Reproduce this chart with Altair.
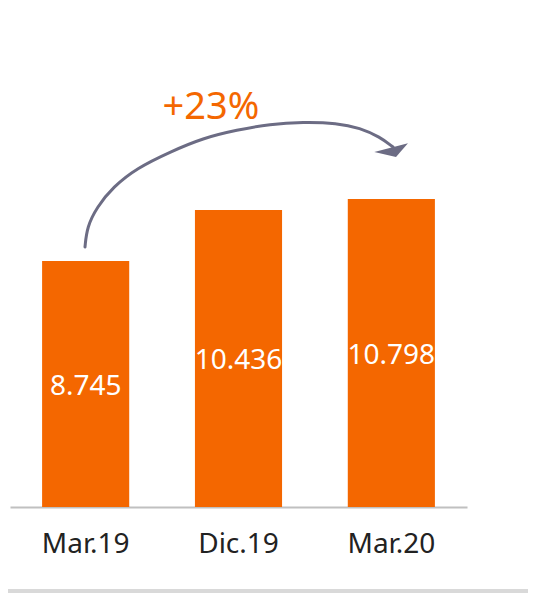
import altair as alt
import pandas as pd

categories = ["Mar.19", "Dic.19", "Mar.20"]
values = [8745, 10436, 10798]
value_labels = ["8.745", "10.436", "10.798"]
growth_label = "+23%"

# decorative arrow path (pixel coordinates inside the plot area)
arrow_x = [75, 77, 87, 103, 127, 160, 193, 227, 260, 293, 327, 350, 370, 383]
arrow_y = [237, 217, 197, 177, 158, 142, 128, 120, 114, 112, 113, 118, 127, 137]

ORANGE = "#F46700"
ARROW = "#6c6c84"
FONT = "Noto Sans"
BASE = 600

df = pd.DataFrame({"cat": categories, "value": values, "label": value_labels})
df["mid"] = (df["value"] + BASE) / 2

arrow_df = pd.DataFrame({"px": arrow_x, "py": arrow_y, "o": list(range(len(arrow_x)))})

x_enc = alt.X(
    "cat:N",
    sort=categories,
    title=None,
    scale=alt.Scale(paddingInner=0.43, paddingOuter=0.21),
    axis=alt.Axis(
        labelAngle=0,
        labelFont=FONT,
        labelFontSize=28,
        labelColor="#222222",
        labelPadding=23,
        ticks=False,
        domainColor="#c0c0c0",
        domainWidth=2,
        grid=False,
    ),
)
y_scale = alt.Scale(domain=[BASE, 17055], zero=False, nice=False)

base = alt.Chart(df)

bars = base.mark_bar(color=ORANGE).encode(
    x=x_enc,
    y=alt.Y("value:Q", scale=y_scale, axis=None),
    y2=alt.datum(BASE),
)

labels = base.mark_text(
    color="white", font=FONT, fontSize=28, baseline="middle", dy=3
).encode(
    x=alt.X("cat:N", sort=categories),
    y=alt.Y("mid:Q", scale=y_scale),
    text="label:N",
)

arrow_line = alt.Chart(arrow_df).mark_line(
    color=ARROW, strokeWidth=3, interpolate="basis", strokeCap="round"
).encode(
    x=alt.X("px:Q", scale=None),
    y=alt.Y("py:Q", scale=None),
    order="o:Q",
)

arrow_head = alt.Chart(pd.DataFrame({"a": [0]})).mark_point(
    shape="M-1,0.05L0.8,-0.42L0.16,0.32Z",
    filled=True,
    color=ARROW,
    opacity=1,
    size=1400,
).encode(x=alt.value(383), y=alt.value(141))

growth = alt.Chart(pd.DataFrame({"t": [growth_label]})).mark_text(
    color=ORANGE, font=FONT, fontSize=38, baseline="middle", align="center"
).encode(x=alt.value(201), y=alt.value(98), text="t:N")

bottom_band = alt.Chart(pd.DataFrame({"a": [0]})).mark_rule(
    color="#d9d9d9", strokeWidth=4
).encode(x=alt.value(-2), x2=alt.value(518), y=alt.value(581))

chart = (
    alt.layer(bars, labels, arrow_line, arrow_head, growth, bottom_band)
    .properties(
        width=457,
        height=497,
        autosize=alt.AutoSizeParams(type="none"),
        padding={"left": 2, "top": 2, "right": 61, "bottom": 86},
    )
    .configure(background="white")
    .configure_view(strokeWidth=0, stroke=None)
)

chart.save("out.html", embed_options={"renderer": "svg", "actions": False})
